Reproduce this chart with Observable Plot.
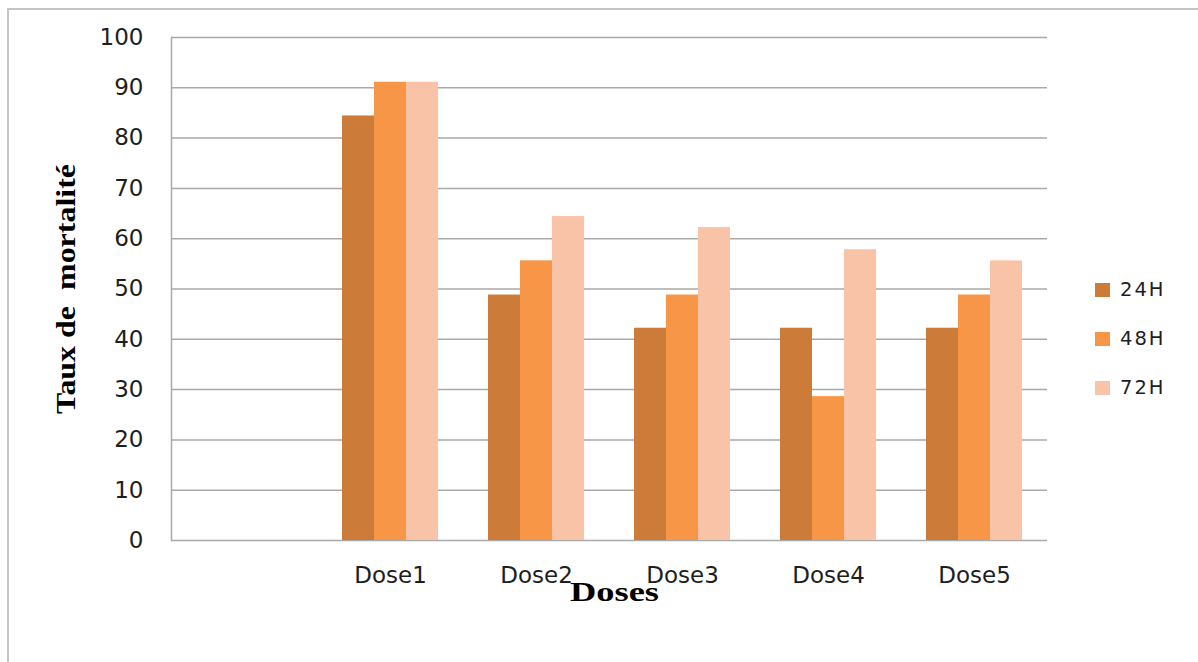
<!DOCTYPE html>
<html>
<head>
<meta charset="utf-8">
<script src="https://cdn.jsdelivr.net/npm/d3@7"></script>
<script src="https://cdn.jsdelivr.net/npm/@observablehq/plot@0.6"></script>
<style>
  body { margin: 0; background: #fff; }
  #wrap { position: relative; width: 1198px; height: 662px; overflow: hidden; background: #fff; }
  #border { position: absolute; left: 7px; top: 8px; right: -20px; bottom: -20px;
            border-top: 2px solid #c4c4c4; border-left: 2px solid #c4c4c4; pointer-events: none; }
  #chart { position: absolute; left: 0; top: 0; }
  #legend { position: absolute; left: 1095px; top: 265px; font-family: "DejaVu Sans", sans-serif;
            font-size: 19.5px; color: #1e1e1e; letter-spacing: 2px; }
  .item { display: flex; align-items: center; height: 49px; }
  .sw { width: 15px; height: 14px; margin-right: 10px; }
</style>
</head>
<body>
<div id="wrap">
  <div id="chart"></div>
  <div id="border"></div>
  <div id="legend"></div>
</div>
<script>
// ---- data ----
const doses = ["Dose1", "Dose2", "Dose3", "Dose4", "Dose5"];
const categories = ["", "Dose1", "Dose2", "Dose3", "Dose4", "Dose5"]; // first category is blank
const series = ["24H", "48H", "72H"];
const values24 = [84.4, 48.8, 42.2, 42.2, 42.2];
const values48 = [91.1, 55.6, 48.8, 28.6, 48.8];
const values72 = [91.1, 64.4, 62.2, 57.8, 55.6];
const colors = ["#cc7b38", "#f79646", "#f9c3a7"];
const yTicks = [0, 10, 20, 30, 40, 50, 60, 70, 80, 90, 100];
const xTitle = "Doses";
const yTitle = "Taux de  mortalité";

const seriesValues = [values24, values48, values72];
const rows = doses.flatMap((d, i) => series.map((s, j) => ({dose: d, series: s, value: seriesValues[j][i]})));
const gridRows = categories.flatMap(c => yTicks.map(t => ({cat: c, tick: t})));

const grid = "#a9a9a9";

const chart = Plot.plot({
  width: 1198,
  height: 662,
  marginLeft: 170,
  marginRight: 151,
  marginTop: 37,
  marginBottom: 122,
  style: {background: "transparent", color: "#1e1e1e"},
  fx: {domain: categories, padding: 0},
  x: {domain: series, paddingInner: 0, paddingOuter: 0.75, axis: null},
  y: {domain: [0, 100]},
  color: {domain: series, range: colors},
  marks: [
    Plot.ruleY(gridRows, {fx: "cat", y: "tick", stroke: grid, strokeOpacity: 1, strokeWidth: 1.5}),
    Plot.barY(rows, {fx: "dose", x: "series", y: "value", fill: "series", inset: 0}),
    Plot.frame({anchor: "left", stroke: grid, strokeWidth: 1.5, facet: "super"}),
    Plot.axisY(yTicks, {tickSize: 0, tickPadding: 28, fontSize: 23, fontFamily: "DejaVu Sans",
      label: yTitle, labelArrow: "none", labelAnchor: "center", labelOffset: 116}),
    Plot.axisFx({anchor: "bottom", tickSize: 0, tickPadding: 26, fontSize: 23, fontFamily: "DejaVu Sans",
      label: xTitle, labelArrow: "none", labelAnchor: "center", labelOffset: 60})
  ]
});

// style the axis titles (bold serif, stretched like the original)
const svg = d3.select(chart);
svg.selectAll('[aria-label="y-axis label"] text')
  .text(yTitle)
  .attr("font-family", "Liberation Serif").attr("font-weight", "bold").attr("font-size", 28)
  .attr("fill", "#000").attr("textLength", 250).attr("lengthAdjust", "spacingAndGlyphs");
svg.selectAll('[aria-label="fx-axis label"] text')
  .text(xTitle)
  .attr("font-family", "Liberation Serif").attr("font-weight", "bold").attr("font-size", 27)
  .attr("fill", "#000").attr("textLength", 89).attr("lengthAdjust", "spacingAndGlyphs")
  .attr("dx", 5);

document.getElementById("chart").append(chart);

const legend = d3.select("#legend");
series.forEach((s, i) => {
  const it = legend.append("div").attr("class", "item");
  it.append("div").attr("class", "sw").style("background", colors[i]);
  it.append("span").text(s);
});
</script>
</body>
</html>
